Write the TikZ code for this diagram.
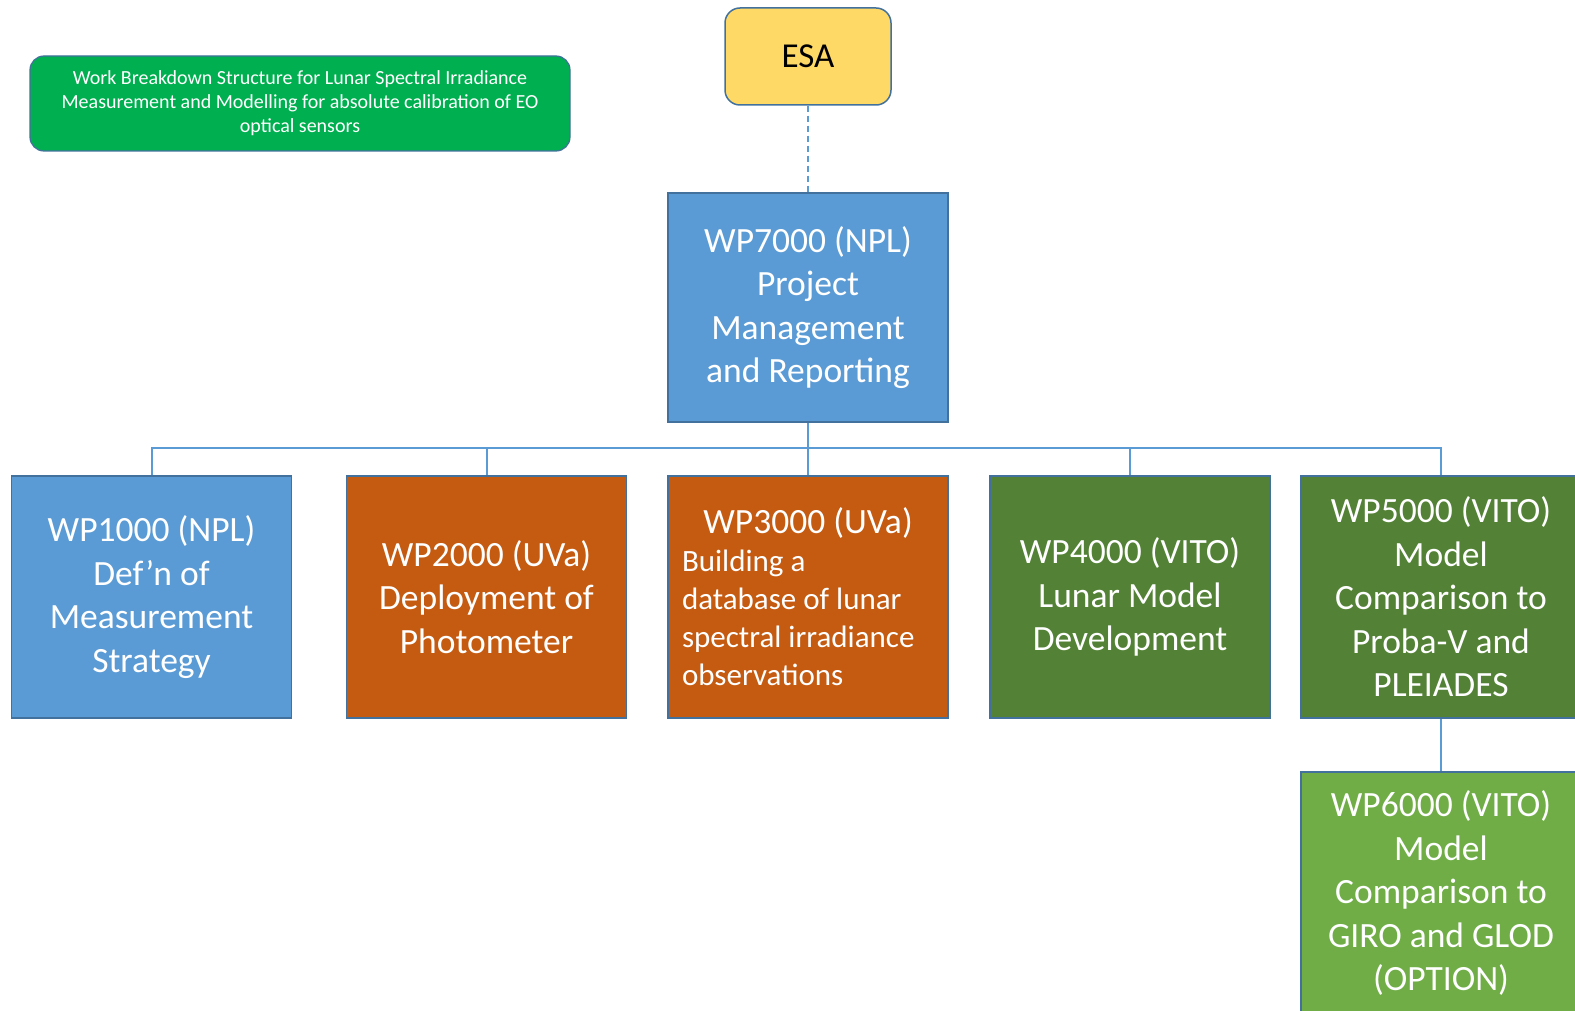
\documentclass[tikz,border=0pt]{standalone}
\usepackage{fontspec}
\setmainfont{Carlito}
\definecolor{wpblue}{HTML}{5B9BD5}
\definecolor{wpborder}{HTML}{41719C}
\definecolor{wporange}{HTML}{C55A11}
\definecolor{wpdkgreen}{HTML}{538135}
\definecolor{wpltgreen}{HTML}{70AD47}
\definecolor{titlegreen}{HTML}{00B050}
\definecolor{esayellow}{HTML}{FFD966}
\tikzset{
  wpbox/.style={draw=wpborder, line width=1.5pt, minimum width=280pt, minimum height=242pt,
    inner sep=0pt, text=white, align=center, font=\fontsize{35.5}{43.5}\selectfont},
  conn/.style={draw=wpblue, line width=2pt},
}
\begin{document}
\begin{tikzpicture}[x=1pt,y=-1pt]
\useasboundingbox (0,0) rectangle (1575,1011);
% title
\node[draw=wpborder, line width=1.2pt, fill=titlegreen, rounded corners=14pt, minimum width=540pt, minimum height=95pt,
  text=white, align=center, font=\fontsize{20}{24}\selectfont] (title) at (300,103.5)
  {Work Breakdown Structure for Lunar Spectral Irradiance\\Measurement and Modelling for absolute calibration of EO\\optical sensors};
% ESA
\node[draw=wpborder, line width=1.5pt, fill=esayellow, rounded corners=15pt, minimum width=166pt, minimum height=97pt,
  font=\fontsize{35}{42}\selectfont] (esa) at (808,56.5) {ESA};
% WP7000
\node[wpbox, fill=wpblue, minimum height=229pt] (wp7) at (808,307.5)
  {WP7000 (NPL)\\Project\\Management\\and Reporting};
% bottom row
\node[wpbox, fill=wpblue] (wp1) at (151.5,597) {WP1000 (NPL)\\Def'n of\\Measurement\\Strategy};
\node[wpbox, fill=wporange] (wp2) at (486.5,597) {WP2000 (UVa)\\Deployment of\\Photometer};
\node[wpbox, fill=wporange] (wp3) at (808,597)
  {\begin{minipage}{252pt}\centering\fontsize{35.5}{42}\selectfont WP3000 (UVa)\par
   \raggedright\fontsize{31}{38}\selectfont Building a\\database of lunar\\spectral irradiance\\observations\end{minipage}};
\node[wpbox, fill=wpdkgreen] (wp4) at (1130,597) {WP4000 (VITO)\\Lunar Model\\Development};
\node[wpbox, fill=wpdkgreen] (wp5) at (1441,597) {WP5000 (VITO)\\Model\\Comparison to\\Proba-V and\\PLEIADES};
\node[wpbox, fill=wpltgreen] (wp6) at (1441,893) {WP6000 (VITO)\\Model\\Comparison to\\GIRO and GLOD\\(OPTION)};
% connectors
\coordinate (bus) at (808,448);
\draw[conn, dashed, dash pattern=on 6pt off 4pt] (esa.south) -- (wp7.north);
\draw[conn] (wp7.south) -- (bus);
\draw[conn] (bus) -| (wp1.north);
\draw[conn] (bus) -| (wp2.north);
\draw[conn] (bus) -- (wp3.north);
\draw[conn] (bus) -| (wp4.north);
\draw[conn] (bus) -| (wp5.north);
\draw[conn] (wp5.south) -- (wp6.north);
\end{tikzpicture}
\end{document}
